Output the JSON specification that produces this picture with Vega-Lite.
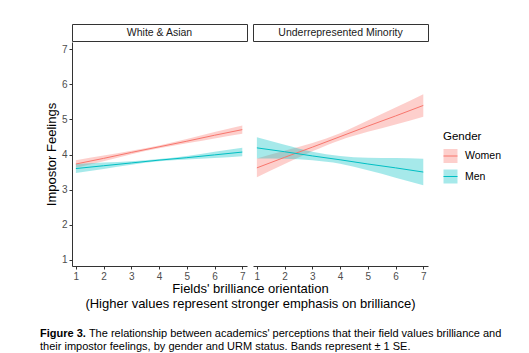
{
  "$schema": "https://vega.github.io/schema/vega-lite/v6.json",
  "padding": {"left": 40, "top": 23, "right": 5, "bottom": 0},
  "datasets": {
    "fits": [
      {"panel": "White & Asian", "gender": "Women", "x": 1, "fit": 3.73, "lo": 3.62, "hi": 3.84},
      {"panel": "White & Asian", "gender": "Women", "x": 2, "fit": 3.89, "lo": 3.81, "hi": 3.97},
      {"panel": "White & Asian", "gender": "Women", "x": 3, "fit": 4.06, "lo": 4.01, "hi": 4.11},
      {"panel": "White & Asian", "gender": "Women", "x": 4, "fit": 4.22, "lo": 4.18, "hi": 4.26},
      {"panel": "White & Asian", "gender": "Women", "x": 5, "fit": 4.38, "lo": 4.32, "hi": 4.44},
      {"panel": "White & Asian", "gender": "Women", "x": 6, "fit": 4.55, "lo": 4.46, "hi": 4.64},
      {"panel": "White & Asian", "gender": "Women", "x": 7, "fit": 4.71, "lo": 4.59, "hi": 4.83},
      {"panel": "White & Asian", "gender": "Men", "x": 1, "fit": 3.60, "lo": 3.47, "hi": 3.73},
      {"panel": "White & Asian", "gender": "Men", "x": 2, "fit": 3.68, "lo": 3.59, "hi": 3.77},
      {"panel": "White & Asian", "gender": "Men", "x": 3, "fit": 3.76, "lo": 3.71, "hi": 3.81},
      {"panel": "White & Asian", "gender": "Men", "x": 4, "fit": 3.84, "lo": 3.81, "hi": 3.87},
      {"panel": "White & Asian", "gender": "Men", "x": 5, "fit": 3.91, "lo": 3.86, "hi": 3.96},
      {"panel": "White & Asian", "gender": "Men", "x": 6, "fit": 3.99, "lo": 3.90, "hi": 4.08},
      {"panel": "White & Asian", "gender": "Men", "x": 7, "fit": 4.07, "lo": 3.95, "hi": 4.19},
      {"panel": "Underrepresented Minority", "gender": "Women", "x": 1, "fit": 3.62, "lo": 3.35, "hi": 3.89},
      {"panel": "Underrepresented Minority", "gender": "Women", "x": 2, "fit": 3.92, "lo": 3.73, "hi": 4.11},
      {"panel": "Underrepresented Minority", "gender": "Women", "x": 3, "fit": 4.21, "lo": 4.09, "hi": 4.33},
      {"panel": "Underrepresented Minority", "gender": "Women", "x": 4, "fit": 4.51, "lo": 4.41, "hi": 4.61},
      {"panel": "Underrepresented Minority", "gender": "Women", "x": 5, "fit": 4.81, "lo": 4.65, "hi": 4.97},
      {"panel": "Underrepresented Minority", "gender": "Women", "x": 6, "fit": 5.10, "lo": 4.86, "hi": 5.34},
      {"panel": "Underrepresented Minority", "gender": "Women", "x": 7, "fit": 5.40, "lo": 5.08, "hi": 5.72},
      {"panel": "Underrepresented Minority", "gender": "Men", "x": 1, "fit": 4.19, "lo": 3.89, "hi": 4.49},
      {"panel": "Underrepresented Minority", "gender": "Men", "x": 2, "fit": 4.08, "lo": 3.88, "hi": 4.28},
      {"panel": "Underrepresented Minority", "gender": "Men", "x": 3, "fit": 3.96, "lo": 3.84, "hi": 4.08},
      {"panel": "Underrepresented Minority", "gender": "Men", "x": 4, "fit": 3.85, "lo": 3.74, "hi": 3.96},
      {"panel": "Underrepresented Minority", "gender": "Men", "x": 5, "fit": 3.73, "lo": 3.55, "hi": 3.91},
      {"panel": "Underrepresented Minority", "gender": "Men", "x": 6, "fit": 3.62, "lo": 3.34, "hi": 3.90},
      {"panel": "Underrepresented Minority", "gender": "Men", "x": 7, "fit": 3.50, "lo": 3.12, "hi": 3.88}
    ]
  },
  "title": {
    "text": "Figure 3.",
    "subtitle": [
      "\u200b\u00a0\u00a0\u00a0\u00a0\u00a0\u00a0\u00a0\u00a0\u00a0\u00a0\u00a0\u00a0\u00a0\u00a0\u00a0\u00a0The relationship between academics' perceptions that their field values brilliance and",
      "their impostor feelings, by gender and URM status. Bands represent ± 1 SE."
    ],
    "orient": "bottom",
    "anchor": "start",
    "frame": "group",
    "dx": -32,
    "offset": 18,
    "font": "Liberation Sans",
    "fontSize": 11,
    "fontWeight": "bold",
    "color": "#000000",
    "subtitleFont": "Liberation Sans",
    "subtitleFontSize": 11,
    "subtitleColor": "#000000",
    "subtitleLineHeight": 13,
    "subtitlePadding": -11
  },
  "spacing": 0,
  "vconcat": [
    {
      "bounds": "flush",
      "spacing": 6,
      "hconcat": [
        {
          "width": 175,
          "height": 17,
          "view": {"stroke": "#333333", "strokeWidth": 1, "fill": "white"},
          "data": {"values": [{"label": "White & Asian"}]},
          "mark": {"type": "text", "fontSize": 10.5, "color": "#1a1a1a"},
          "encoding": {"text": {"field": "label"}}
        },
        {
          "width": 175,
          "height": 17,
          "view": {"stroke": "#333333", "strokeWidth": 1, "fill": "white"},
          "data": {"values": [{"label": "Underrepresented Minority"}]},
          "mark": {"type": "text", "fontSize": 10.5, "color": "#1a1a1a"},
          "encoding": {"text": {"field": "label"}}
        }
      ]
    },
    {
      "bounds": "flush",
      "spacing": 6,
      "hconcat": [
        {
          "width": 175,
          "height": 224,
          "data": {"name": "fits"},
          "transform": [{"filter": "datum.panel === 'White & Asian'"}],
          "encoding": {
            "x": {
              "field": "x", "type": "quantitative",
              "scale": {"domain": [0.86, 7.17], "nice": false, "zero": false},
              "axis": {
                "values": [1, 2, 3, 4, 5, 6, 7],
                "title": ["Fields' brilliance orientation", "(Higher values represent stronger emphasis on brilliance)"],
                "titleX": 178,
                "titleLineHeight": 15,
                "titlePadding": 1
              }
            }
          },
          "layer": [
            {
              "mark": {"type": "area", "opacity": 0.35, "interpolate": "monotone"},
              "encoding": {
                "y": {"field": "lo", "type": "quantitative", "scale": {"domain": [0.82, 7.21], "nice": false, "zero": false},
                  "axis": {"values": [1, 2, 3, 4, 5, 6, 7], "title": "Impostor Feelings", "titlePadding": 3}},
                "y2": {"field": "hi"},
                "fill": {"field": "gender", "type": "nominal",
                  "scale": {"domain": ["Women", "Men"], "range": ["#F8766D", "#00BFC4"]},
                  "legend": {"title": "Gender", "encode": {"symbols": {"update": {"fillOpacity": {"value": 0.35}, "strokeOpacity": {"value": 1}, "opacity": {"value": 1}}}}}}
              }
            },
            {
              "mark": {"type": "line", "strokeWidth": 1},
              "encoding": {
                "y": {"field": "fit", "type": "quantitative", "scale": {"domain": [0.82, 7.21], "nice": false, "zero": false},
                  "axis": {"values": [1, 2, 3, 4, 5, 6, 7], "title": "Impostor Feelings", "titlePadding": 3}},
                "stroke": {"field": "gender", "type": "nominal",
                  "scale": {"domain": ["Women", "Men"], "range": ["#F8766D", "#00BFC4"]},
                  "legend": {"title": "Gender", "encode": {"symbols": {"update": {"fillOpacity": {"value": 0.35}, "strokeOpacity": {"value": 1}, "opacity": {"value": 1}}}}}}
              }
            }
          ]
        },
        {
          "width": 175,
          "height": 224,
          "data": {"name": "fits"},
          "transform": [{"filter": "datum.panel === 'Underrepresented Minority'"}],
          "encoding": {
            "x": {
              "field": "x", "type": "quantitative",
              "scale": {"domain": [0.86, 7.17], "nice": false, "zero": false},
              "axis": {"values": [1, 2, 3, 4, 5, 6, 7], "title": null}
            }
          },
          "layer": [
            {
              "mark": {"type": "area", "opacity": 0.35, "interpolate": "monotone"},
              "encoding": {
                "y": {"field": "lo", "type": "quantitative", "scale": {"domain": [0.82, 7.21], "nice": false, "zero": false}, "axis": null},
                "y2": {"field": "hi"},
                "fill": {"field": "gender", "type": "nominal",
                  "scale": {"domain": ["Women", "Men"], "range": ["#F8766D", "#00BFC4"]},
                  "legend": {"title": "Gender", "encode": {"symbols": {"update": {"fillOpacity": {"value": 0.35}, "strokeOpacity": {"value": 1}, "opacity": {"value": 1}}}}}}
              }
            },
            {
              "mark": {"type": "line", "strokeWidth": 1},
              "encoding": {
                "y": {"field": "fit", "type": "quantitative", "scale": {"domain": [0.82, 7.21], "nice": false, "zero": false}, "axis": null},
                "stroke": {"field": "gender", "type": "nominal",
                  "scale": {"domain": ["Women", "Men"], "range": ["#F8766D", "#00BFC4"]},
                  "legend": {"title": "Gender", "encode": {"symbols": {"update": {"fillOpacity": {"value": 0.35}, "strokeOpacity": {"value": 1}, "opacity": {"value": 1}}}}}}
              }
            }
          ]
        }
      ]
    }
  ],
  "config": {
    "font": "Liberation Sans",
    "view": {"stroke": null},
    "axis": {
      "grid": false,
      "domainColor": "#333333",
      "domainWidth": 1,
      "tickColor": "#333333",
      "tickSize": 3,
      "labelColor": "#4d4d4d",
      "labelFontSize": 10,
      "labelPadding": 2,
      "labelFlush": false,
      "titleColor": "#000000",
      "titleFontSize": 13,
      "titleFontWeight": "normal"
    },
    "legend": {
      "orient": "none",
      "legendX": 371,
      "legendY": 107,
      "padding": 0,
      "titleFontSize": 11.5,
      "titleFontWeight": "normal",
      "titleColor": "#000000",
      "titlePadding": 6,
      "labelFontSize": 10.5,
      "labelColor": "#000000",
      "labelOffset": 7,
      "rowPadding": 1.5,
      "symbolType": "M-1,0H1V-1H-1V1H1V0",
      "symbolSize": 196,
      "symbolStrokeWidth": 1,
      "symbolDash": [14, 200]
    }
  }
}
